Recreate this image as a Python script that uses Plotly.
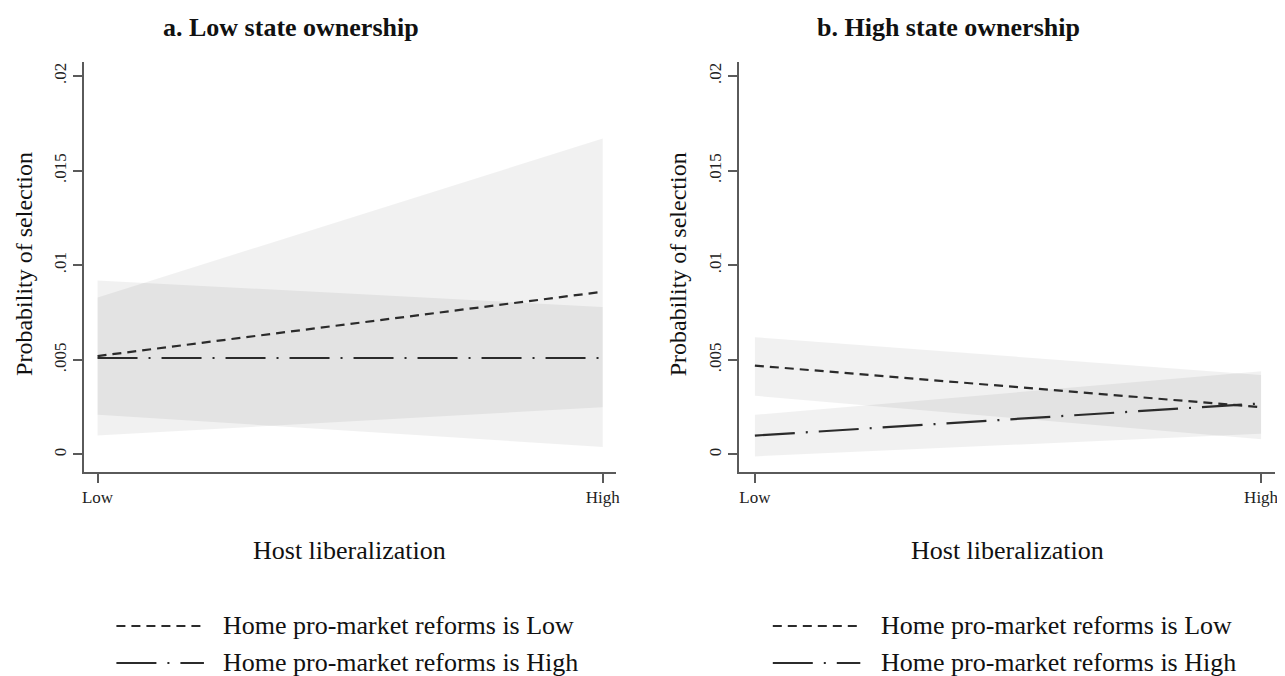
import plotly.graph_objects as go

W, H = 1285, 676
OFF = 8  # page body margin offset
FW, FH = W - OFF, H - OFF

# ---------------- data ----------------
host_levels = ["Low", "High"]
y_tickvals = [0, 0.005, 0.01, 0.015, 0.02]
y_ticktext = ["0", ".005", ".01", ".015", ".02"]

panel_titles = ["a. Low state ownership", "b. High state ownership"]
series_names = ["Home pro-market reforms is Low", "Home pro-market reforms is High"]

# Panel a: low state ownership
a_low_mean = [0.0052, 0.0086]
a_low_lo = [0.0021, 0.0004]
a_low_hi = [0.0083, 0.0167]
a_high_mean = [0.0051, 0.0051]
a_high_lo = [0.0010, 0.0025]
a_high_hi = [0.0092, 0.0078]

# Panel b: high state ownership
b_low_mean = [0.0047, 0.0025]
b_low_lo = [0.0031, 0.0008]
b_low_hi = [0.0062, 0.0042]
b_high_mean = [0.0010, 0.0027]
b_high_lo = [-0.0001, 0.0011]
b_high_hi = [0.0021, 0.0044]

# ---------------- styling ----------------
FONT = "Liberation Serif, Times New Roman, serif"
LINE_COLOR = "#2b2b2b"
BAND = "rgba(0,0,0,0.055)"
AXIS_COLOR = "#5a5a5a"
DASH_LOW = "9px,6px"
DASH_HIGH = "40px,11px,2px,11px"


def px_x(p):
    return (p - OFF) / FW


def px_y(p):
    return 1 - (p - OFF) / FH


fig = go.Figure()

panels = [
    ("x", "y", a_low_mean, a_low_lo, a_low_hi, a_high_mean, a_high_lo, a_high_hi),
    ("x2", "y2", b_low_mean, b_low_lo, b_low_hi, b_high_mean, b_high_lo, b_high_hi),
]

for xa, ya, lm, llo, lhi, hm, hlo, hhi in panels:
    for lo, hi in [(llo, lhi), (hlo, hhi)]:
        fig.add_trace(go.Scatter(
            x=host_levels + host_levels[::-1],
            y=hi + lo[::-1],
            fill="toself", fillcolor=BAND, line=dict(width=0),
            mode="lines", hoverinfo="skip", showlegend=False,
            xaxis=xa, yaxis=ya,
        ))
    fig.add_trace(go.Scatter(
        x=host_levels, y=lm, mode="lines", name=series_names[0],
        line=dict(color=LINE_COLOR, width=2.2, dash=DASH_LOW),
        showlegend=False, xaxis=xa, yaxis=ya,
    ))
    fig.add_trace(go.Scatter(
        x=host_levels, y=hm, mode="lines", name=series_names[1],
        line=dict(color=LINE_COLOR, width=2.2, dash=DASH_HIGH),
        showlegend=False, xaxis=xa, yaxis=ya,
    ))

y_dom = [px_y(472), px_y(62)]
y_range = [-0.000925, 0.02074]

common_x = dict(
    type="category", categoryorder="array", categoryarray=host_levels,
    showline=True, linecolor=AXIS_COLOR, linewidth=1.6,
    ticks="outside", ticklen=9, tickwidth=1.6, tickcolor=AXIS_COLOR,
    showgrid=False, zeroline=False,
    tickfont=dict(family=FONT, size=17, color="#222"),
)
common_y = dict(
    range=y_range, domain=y_dom,
    tickvals=y_tickvals, ticktext=y_ticktext, tickangle=-90,
    showline=True, linecolor=AXIS_COLOR, linewidth=1.6,
    ticks="outside", ticklen=9, tickwidth=1.6, tickcolor=AXIS_COLOR,
    showgrid=False, zeroline=False,
    tickfont=dict(family=FONT, size=17, color="#222"),
)

fig.update_layout(
    width=FW, height=FH, autosize=False,
    margin=dict(l=0, r=0, t=0, b=0),
    paper_bgcolor="white", plot_bgcolor="white",
    showlegend=False,
    xaxis=dict(common_x, domain=[px_x(82), px_x(617)], range=[-0.0276, 1.0256], anchor="y"),
    yaxis=dict(common_y, anchor="x"),
    xaxis2=dict(common_x, domain=[px_x(741), px_x(1280)], range=[-0.0314, 1.0275], anchor="y2"),
    yaxis2=dict(common_y, anchor="x2"),
)

annotations = []
# panel titles
for txt, cx in zip(panel_titles, [291, 952]):
    annotations.append(dict(text="<b>%s</b>" % txt, x=px_x(cx), y=px_y(27),
                            xref="paper", yref="paper", showarrow=False,
                            xanchor="center", yanchor="middle",
                            font=dict(family=FONT, size=26, color="#111")))
# x-axis titles
for cx in [349, 1011]:
    annotations.append(dict(text="Host liberalization", x=px_x(cx), y=px_y(550),
                            xref="paper", yref="paper", showarrow=False,
                            xanchor="center", yanchor="middle",
                            font=dict(family=FONT, size=26, color="#111")))
# y-axis titles
for cx in [22, 680]:
    annotations.append(dict(text="Probability of selection", x=px_x(cx), y=px_y(264),
                            xref="paper", yref="paper", showarrow=False, textangle=-90,
                            xanchor="center", yanchor="middle",
                            font=dict(family=FONT, size=24, color="#111")))

shapes = []
# legends
for x0, tx in [(115, 220), (775, 882)]:
    for name, dash, yy in [(series_names[0], DASH_LOW, 626), (series_names[1], DASH_HIGH, 663)]:
        shapes.append(dict(type="line", xref="paper", yref="paper",
                           x0=px_x(x0), x1=px_x(x0 + 88), y0=px_y(yy), y1=px_y(yy),
                           line=dict(color=LINE_COLOR, width=2, dash=dash)))
        annotations.append(dict(text=name, x=px_x(tx), y=px_y(yy - 1),
                                xref="paper", yref="paper", showarrow=False,
                                xanchor="left", yanchor="middle",
                                font=dict(family=FONT, size=26, color="#111")))

fig.update_layout(annotations=annotations, shapes=shapes)

fig.write_html("out.html")
